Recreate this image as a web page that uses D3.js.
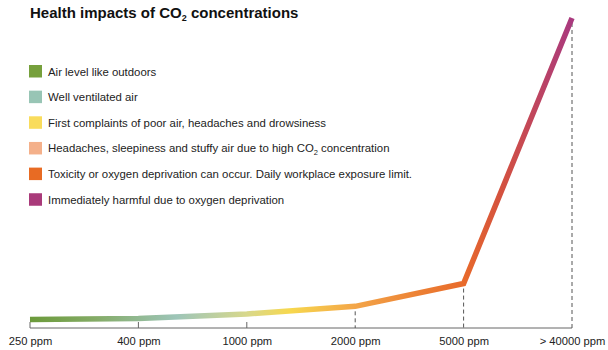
<!DOCTYPE html>
<html lang="en">
<head>
<meta charset="UTF-8">
<title>Health impacts of CO2 concentrations</title>
<script src="https://d3js.org/d3.v7.min.js"></script>
<style>
  body { margin: 0; background: #fff; }
  text { font-family: Arial, "Liberation Sans", sans-serif; }
</style>
</head>
<body>
<div id="container"></div>
<script>
// Données
const categories = ["250 ppm", "400 ppm", "1000 ppm", "2000 ppm", "5000 ppm", "> 40000 ppm"];
const ppmValues = [250, 400, 1000, 2000, 5000, 40000];
const legendLabels = [
  "Air level like outdoors",
  "Well ventilated air",
  "First complaints of poor air, headaches and drowsiness",
  "Headaches, sleepiness and stuffy air due to high CO₂ concentration",
  "Toxicity or oxygen deprivation can occur. Daily workplace exposure limit.",
  "Immediately harmful due to oxygen deprivation"
];
const legendColors = ["#76a03c", "#98c5b5", "#f9dc5c", "#f4b08a", "#e86b23", "#a93a7a"];
// ticks en pointillés (du point de la courbe jusqu'à l'axe)
const dashedCats = ["2000 ppm", "5000 ppm", "> 40000 ppm"];

const width = 608, height = 350;
const axisY = 328;

const svg = d3.select("#container").append("svg")
  .attr("width", width)
  .attr("height", height);

// Echelles
const x = d3.scalePoint().domain(categories).range([30, 572]);
const y = d3.scaleLinear().domain([0, 40000]).range([321.5, 18]);

const data = categories.map((c, i) => ({ cat: c, v: ppmValues[i] }));

// Titre
const title = svg.append("text")
  .attr("x", 30).attr("y", 17.5)
  .attr("font-size", 15).attr("font-weight", "bold").attr("fill", "#111");
title.append("tspan").text("Health impacts of CO");
title.append("tspan").attr("font-size", 9).attr("dy", 3).text("2");
title.append("tspan").attr("dy", -3).text(" concentrations");

// Légende
const legend = svg.append("g").attr("transform", "translate(29,65)");
const rows = legend.selectAll("g").data(legendLabels).join("g")
  .attr("transform", (d, i) => `translate(0,${i * 25.65})`);
rows.append("rect")
  .attr("width", 13).attr("height", 12.5)
  .attr("fill", (d, i) => legendColors[i]);
rows.each(function(d) {
  const t = d3.select(this).append("text")
    .attr("x", 19).attr("y", 10.5)
    .attr("font-size", 11.4).attr("fill", "#222");
  const parts = d.split("CO₂");
  t.append("tspan").text(parts[0]);
  if (parts.length > 1) {
    t.append("tspan").text("CO");
    t.append("tspan").attr("font-size", 7.5).attr("dy", 2.5).text("2");
    t.append("tspan").attr("dy", -2.5).text(parts[1]);
  }
});

// Dégradé
const defs = svg.append("defs");
const grad = defs.append("linearGradient")
  .attr("id", "lineGrad")
  .attr("gradientUnits", "userSpaceOnUse")
  .attr("x1", x(categories[0])).attr("x2", x(categories[categories.length - 1]))
  .attr("y1", 0).attr("y2", 0);
[
  [0, "#6b9a3a"], [0.12, "#84ab66"], [0.27, "#9dc5b8"], [0.4, "#d8d88c"],
  [0.48, "#f7d84e"], [0.6, "#f3a548"], [0.72, "#ec8034"], [0.8, "#e86a2b"],
  [0.87, "#d4513f"], [1, "#a9397f"]
].forEach(([o, c]) => grad.append("stop").attr("offset", o).attr("stop-color", c));

// Axe
const xAxis = d3.axisBottom(x).tickSize(0).tickPadding(9);
const ax = svg.append("g")
  .attr("transform", `translate(0,${axisY})`)
  .call(xAxis);
ax.select(".domain").attr("stroke", "#666").attr("d", `M${x(categories[0])},0H${x(categories[5])}`);
ax.selectAll("text").attr("font-size", 11.2).attr("fill", "#222")
  .attr("font-family", "Arial, 'Liberation Sans', sans-serif");

// petits ticks pleins
svg.append("g").selectAll("line")
  .data(categories.filter(c => !dashedCats.includes(c)))
  .join("line")
  .attr("x1", d => x(d)).attr("x2", d => x(d))
  .attr("y1", axisY).attr("y2", axisY - 6)
  .attr("stroke", "#666");

// lignes pointillées
svg.append("g").selectAll("line")
  .data(data.filter(d => dashedCats.includes(d.cat)))
  .join("line")
  .attr("x1", d => x(d.cat)).attr("x2", d => x(d.cat))
  .attr("y1", d => y(d.v) + 5).attr("y2", axisY)
  .attr("stroke", "#555").attr("stroke-dasharray", "4,3");

// Courbe
const line = d3.line().x(d => x(d.cat)).y(d => y(d.v));
svg.append("path")
  .datum(data)
  .attr("d", line)
  .attr("fill", "none")
  .attr("stroke", "url(#lineGrad)")
  .attr("stroke-width", 5.5)
  .attr("stroke-linejoin", "miter");
</script>
</body>
</html>
